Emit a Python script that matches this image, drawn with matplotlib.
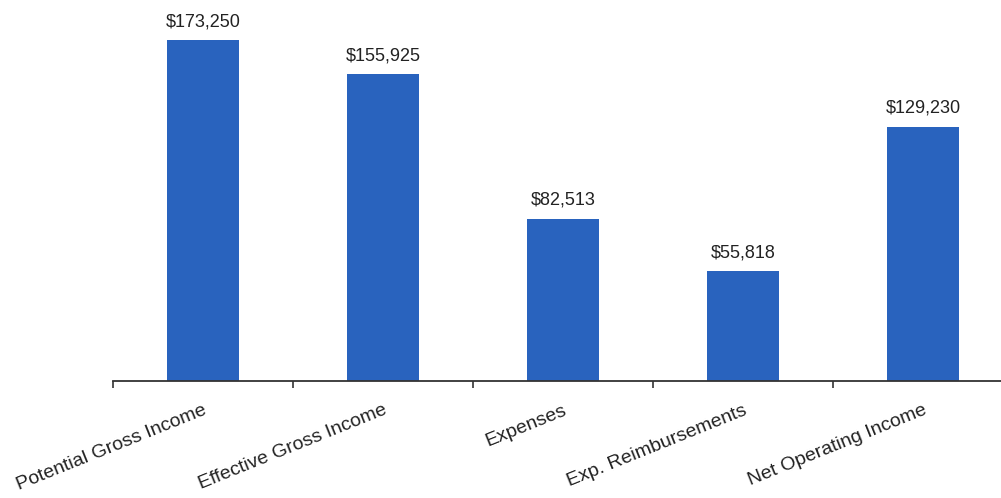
import numpy as np
import matplotlib.pyplot as plt

plt.rcParams['font.family'] = ['Liberation Sans', 'DejaVu Sans']

categories = ['Potential Gross Income', 'Effective Gross Income', 'Expenses',
              'Exp. Reimbursements', 'Net Operating Income']
values = [173250, 155925, 82513, 55818, 129230]
labels = ['$173,250', '$155,925', '$82,513', '$55,818', '$129,230']

fig = plt.figure(figsize=(10.01, 4.98), dpi=100)
ax = fig.add_axes([113 / 1001, 117 / 498, 888 / 1001, 381 / 498])

x = np.arange(len(categories))
bars = ax.bar(x, values, width=0.4, color='#2963BE')

for xi, v, lab in zip(x, values, labels):
    ax.annotate(lab, (xi, v), xytext=(0, 7), textcoords='offset points',
                ha='center', va='bottom', fontsize=13, color='#222222')

ax.set_xlim(-0.5, 4.433)
ax.set_ylim(0, 193600)

for s in ['top', 'right', 'left']:
    ax.spines[s].set_visible(False)
ax.spines['bottom'].set_linewidth(1.3)
ax.spines['bottom'].set_color('#333333')
ax.set_yticks([])

ax.set_xticks(x)
ax.set_xticklabels(categories, rotation=22, ha='right', rotation_mode='anchor',
                   fontsize=14, color='#222222')
ax.tick_params(axis='x', which='major', length=0, pad=15)
ax.set_xticks(np.arange(-0.5, 4.5, 1), minor=True)
ax.tick_params(axis='x', which='minor', length=5, width=1.2, color='#333333')

plt.savefig('out.png', dpi=100)
